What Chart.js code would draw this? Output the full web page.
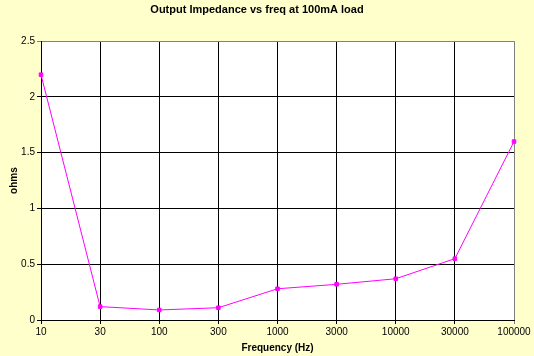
<!DOCTYPE html>
<html><head><meta charset="utf-8">
<script src="https://cdn.jsdelivr.net/npm/chart.js@4"></script>
<style>html,body{margin:0;padding:0;background:#FFFFCC;}#wrap{width:534px;height:356px;}</style>
</head><body><div id="wrap"><canvas id="c" width="534" height="356"></canvas></div>
<script>
const categories = ["10","30","100","300","1000","3000","10000","30000","100000"];
const impedance = [2.2, 0.12, 0.09, 0.11, 0.28, 0.32, 0.37, 0.55, 1.6];
const yTicks = [0, 0.5, 1, 1.5, 2, 2.5];
const titleText = "Output Impedance vs freq at 100mA load";
const xTitle = "Frequency (Hz)";
const yTitle = "ohms";

const bgPlugin = {
  id: 'bg',
  beforeDraw(chart) {
    const {ctx, chartArea: a} = chart;
    ctx.save();
    ctx.fillStyle = '#FFFFCC';
    ctx.fillRect(0, 0, chart.width, chart.height);
    ctx.fillStyle = '#FFFFFF';
    ctx.fillRect(a.left, a.top, a.right - a.left, a.bottom - a.top);
    ctx.restore();
  }
};

new Chart(document.getElementById('c'), {
  type: 'line',
  data: {
    labels: categories,
    datasets: [{
      data: impedance,
      borderColor: '#FF00FF',
      backgroundColor: '#FF00FF',
      borderWidth: 1,
      pointStyle: 'rect',
      pointRadius: 2.5,
      pointBorderWidth: 1,
      tension: 0,
      fill: false
    }]
  },
  options: {
    responsive: false,
    animation: false,
    devicePixelRatio: 1,
    layout: { padding: { left: 0, right: 20, top: 0, bottom: 0 } },
    plugins: {
      legend: { display: false },
      tooltip: { enabled: false },
      title: {
        display: true,
        text: titleText,
        color: '#000',
        font: { family: 'Liberation Sans', size: 11, weight: 'bold' },
        padding: { top: 3, bottom: 25 }
      }
    },
    scales: {
      x: {
        offset: false,
        grid: {
          color: (c) => c.index === categories.length - 1 ? '#808080' : '#000',
          lineWidth: 1,
          tickLength: 4,
          drawTicks: true
        },
        border: { color: '#000', width: 1 },
        ticks: {
          color: '#000',
          font: { family: 'Liberation Sans', size: 10 },
          maxRotation: 0, autoSkip: false, padding: 2
        },
        title: {
          display: true, text: xTitle, color: '#000',
          font: { family: 'Liberation Sans', size: 10, weight: 'bold' },
          padding: { top: 2, bottom: 2 }
        },
        afterFit(s) { s.height = 36; }
      },
      y: {
        min: 0, max: 2.5,
        afterBuildTicks(s) { s.ticks = yTicks.map(v => ({ value: v })); },
        grid: {
          color: (c) => c.tick && c.tick.value === 2.5 ? '#808080' : '#000',
          lineWidth: 1,
          tickLength: 4
        },
        border: { color: '#000', width: 1 },
        ticks: {
          color: '#000',
          font: { family: 'Liberation Sans', size: 10 },
          padding: 2,
          callback: (v) => String(v)
        },
        title: {
          display: true, text: yTitle, color: '#000',
          font: { family: 'Liberation Sans', size: 10, weight: 'bold' },
          padding: { top: 8, bottom: 0 }
        },
        afterFit(s) { s.width = 41; }
      }
    }
  },
  plugins: [bgPlugin]
});
</script></body></html>
